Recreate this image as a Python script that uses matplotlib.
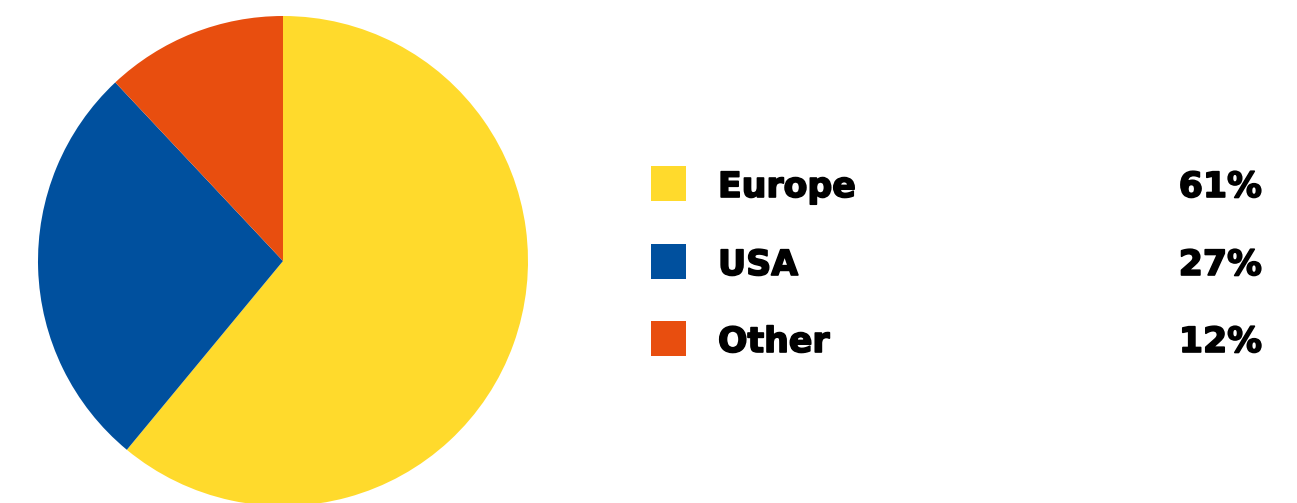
import matplotlib.pyplot as plt
import matplotlib.patheffects as pe
from matplotlib.patches import Rectangle

regions = ["Europe", "USA", "Other"]
shares = [61, 27, 12]
colors = ["#FFDA2C", "#00509E", "#E84E0F"]

W, H = 1297, 503
fig = plt.figure(figsize=(W / 100, H / 100), dpi=100)

# pie: centre (283, 261) px, radius 245 px
cx, cy, r = 283, 261, 245
ax = fig.add_axes([(cx - r) / W, (H - cy - r) / H, 2 * r / W, 2 * r / H])
ax.pie(shares, colors=colors, startangle=90, counterclock=False, radius=1,
       wedgeprops=dict(linewidth=0))
ax.set_xlim(-1, 1)
ax.set_ylim(-1, 1)
ax.set_aspect("equal")
ax.axis("off")

# legend rows
row_y = [183.5, 261.5, 338.5]
sq = 35
font = dict(family="DejaVu Sans", weight="bold", size=25, color="black",
            path_effects=[pe.withStroke(linewidth=1.2, foreground="black")])
for name, val, col, y in zip(regions, shares, colors, row_y):
    fig.patches.append(Rectangle((651 / W, (H - y - sq / 2) / H), sq / W, sq / H,
                                 transform=fig.transFigure, facecolor=col,
                                 edgecolor="none"))
    fig.text(718 / W, (H - y) / H, name, ha="left", va="center_baseline", **font)
    fig.text(1262 / W, (H - y) / H, f"{val}%", ha="right", va="center_baseline", **font)

fig.savefig("out.png", dpi=100)
